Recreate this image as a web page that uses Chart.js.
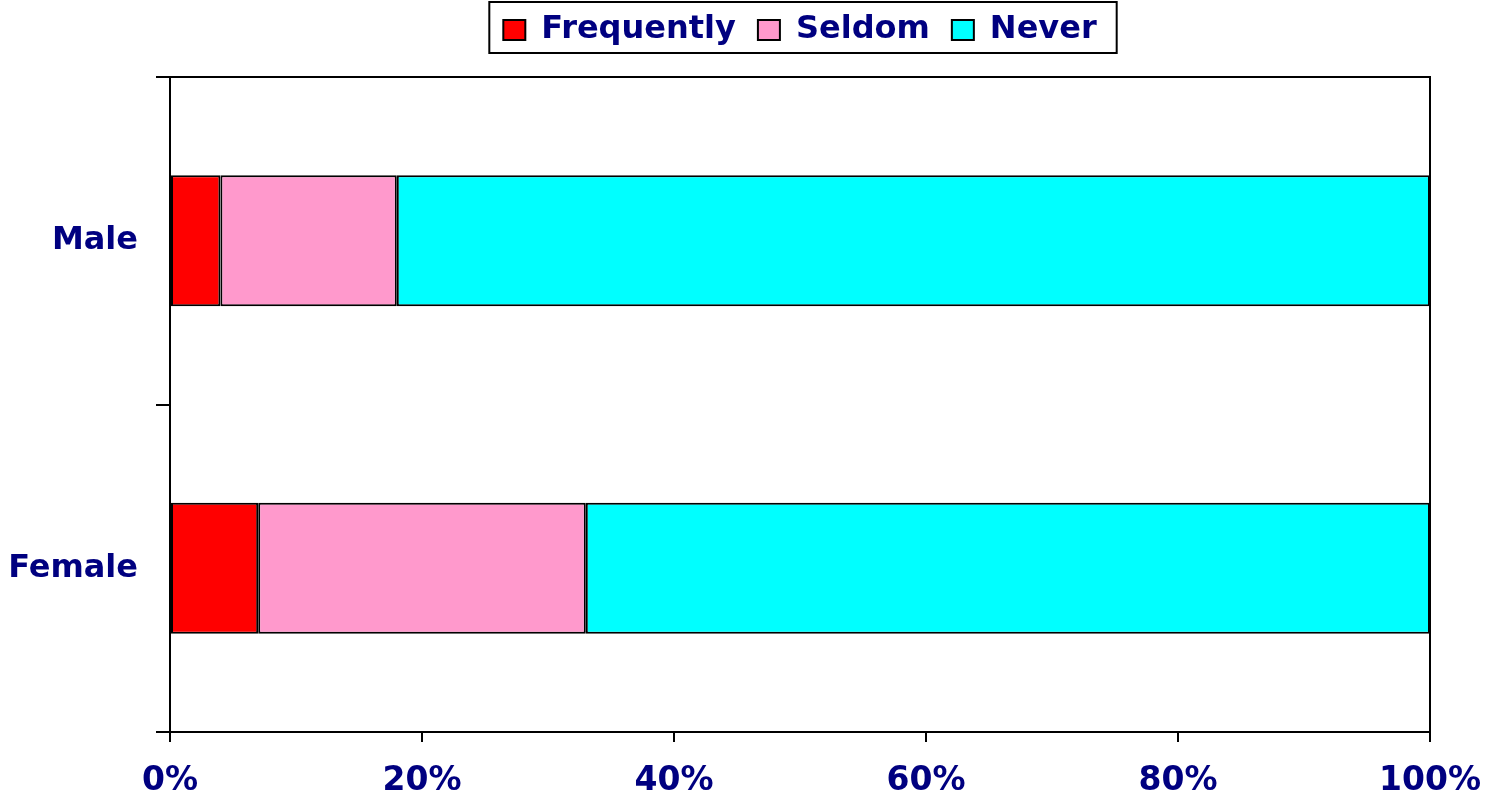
<!DOCTYPE html>
<html>
<head>
<meta charset="utf-8">
<script src="https://cdn.jsdelivr.net/npm/chart.js@4"></script>
<style>
html, body { margin: 0; padding: 0; background: #fff; }
#wrap { width: 1486px; height: 799px; }
</style>
</head>
<body>
<div id="wrap"><canvas id="bar-chart"></canvas></div>
<script>
const groups = ['Male', 'Female'];
const frequently = [4, 7];
const seldom = [14, 26];
const never = [82, 67];
const xTicks = [0, 20, 40, 60, 80, 100];

const navy = '#000080';
const fontFamily = "'DejaVu Sans', sans-serif";

// puts the legend over the plot area, draws its box and the plot frame
const framePlugin = {
    id: 'frame',
    beforeLayout(chart) {
        const lg = chart.legend;
        if (!lg._tallFit) {
            const fit = lg.fit;
            lg.fit = function () { fit.call(this); this.height = 85; };
            lg._tallFit = true;
        }
    },
    afterLayout(chart) {
        const a = chart.chartArea;
        chart.legend.left = a.left;
        chart.legend.right = a.right;
    },
    afterDraw(chart) {
        const ctx = chart.ctx;
        const a = chart.chartArea;
        const lg = chart.legend;
        ctx.save();
        ctx.strokeStyle = '#000';
        ctx.lineWidth = 2;
        ctx.strokeRect(a.left, a.top, a.right - a.left, a.bottom - a.top);
        const boxes = lg.legendHitBoxes;
        if (boxes && boxes.length) {
            const first = boxes[0];
            const last = boxes[boxes.length - 1];
            const x1 = first.left - 14;
            const x2 = last.left + last.width + 20;
            ctx.strokeRect(x1, lg.top + 10, x2 - x1, 51);
        }
        ctx.restore();
    }
};

const barChartElement = document.getElementById('bar-chart').getContext('2d');
const barChart = new Chart(barChartElement, {
    type: 'bar',
    data: {
        labels: groups,
        datasets: [{
            label: 'Frequently',
            data: frequently,
            backgroundColor: '#FF0000'
        }, {
            label: 'Seldom',
            data: seldom,
            backgroundColor: '#FF99CC'
        }, {
            label: 'Never',
            data: never,
            backgroundColor: '#00FFFF'
        }]
    },
    options: {
        indexAxis: 'y',
        responsive: true,
        maintainAspectRatio: false,
        animation: false,
        layout: {
            padding: { left: 0, right: 56, top: -8, bottom: 0 }
        },
        datasets: {
            bar: {
                borderColor: '#000',
                borderWidth: 2,
                borderSkipped: false,
                barPercentage: 0.4,
                categoryPercentage: 1
            }
        },
        scales: {
            x: {
                stacked: true,
                min: 0,
                max: 100,
                afterBuildTicks: axis => { axis.ticks = xTicks.map(v => ({ value: v })); },
                afterFit: axis => {
                    axis.height = 67;
                    axis.paddingLeft = 0;
                    axis.paddingRight = 0;
                },
                grid: {
                    drawOnChartArea: false,
                    tickLength: 10,
                    color: '#000',
                    lineWidth: 2
                },
                border: { color: '#000', width: 2 },
                ticks: {
                    padding: 20,
                    color: navy,
                    font: { family: fontFamily, size: 33, weight: 'bold' },
                    callback: v => v + '%'
                }
            },
            y: {
                stacked: true,
                afterFit: axis => { axis.width = 170; },
                grid: {
                    offset: true,
                    drawOnChartArea: false,
                    tickLength: 14,
                    color: '#000',
                    lineWidth: 2
                },
                border: { color: '#000', width: 2 },
                ticks: {
                    padding: 18,
                    color: navy,
                    font: { family: fontFamily, size: 32, weight: 'bold' }
                }
            }
        },
        plugins: {
            legend: {
                position: 'top',
                labels: {
                    boxWidth: 22,
                    boxHeight: 20,
                    padding: 22,
                    color: navy,
                    font: { family: fontFamily, size: 32, weight: 'bold' }
                }
            },
            tooltip: { enabled: false }
        }
    },
    plugins: [framePlugin]
});
</script>
</body>
</html>
